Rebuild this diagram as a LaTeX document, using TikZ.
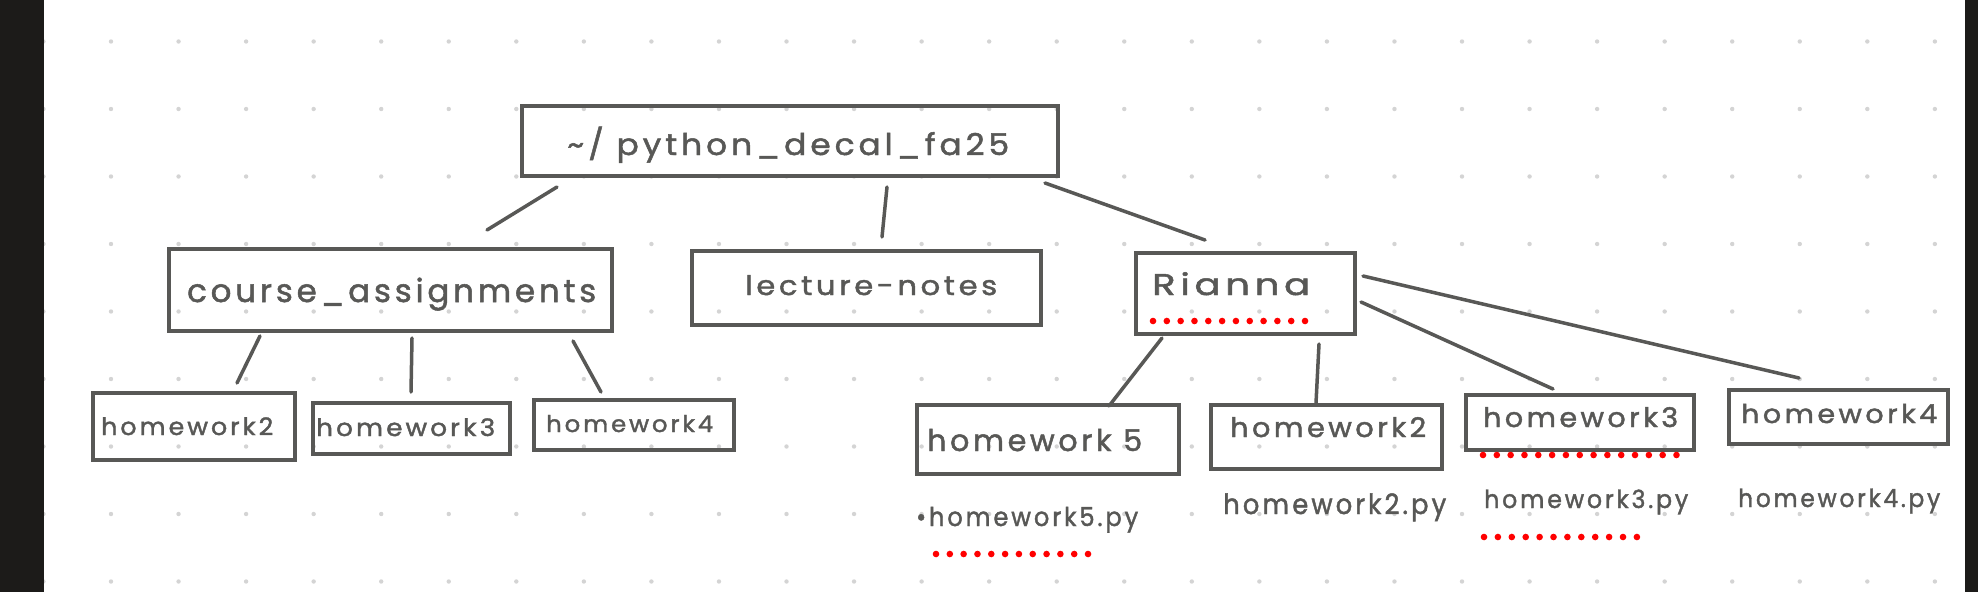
\documentclass[tikz,border=0pt]{standalone}
\usepackage{fontspec}
\setmainfont{Poppins}
\usepackage{graphicx}
\definecolor{ink}{RGB}{88,88,86}
\definecolor{gdot}{RGB}{212,212,212}
\definecolor{sidebar}{RGB}{28,27,25}
\definecolor{redmark}{RGB}{255,0,0}
\newlength\hwlen
\newcommand\hwtext[3]{%
  \settowidth\hwlen{\fontsize{#2}{#2}\selectfont\addfontfeatures{LetterSpace=12,FakeBold=1.6}#3}%
  \pgfmathsetmacro\hwsx{#1/\hwlen}%
  \scalebox{\hwsx}[1]{\fontsize{#2}{#2}\selectfont\addfontfeatures{LetterSpace=12,FakeBold=1.6}#3}}
\begin{document}
\begin{tikzpicture}[x=1pt,y=-1pt,
  box/.style={draw=ink,line width=4pt,rectangle,inner sep=0pt,anchor=north west},
  conn/.style={draw=ink,line width=3.5pt,line cap=round},
  lbl/.style={inner sep=0pt,anchor=base west,text=ink}]
\useasboundingbox (0,0) rectangle (1978,592);
\fill[white] (0,0) rectangle (1978,592);
% dot grid
\foreach \i in {-1,...,27}{\foreach \j in {0,...,8}{\fill[gdot] ({111+67.55*\i},{41.5+67.5*\j}) circle (2.2pt);}}
% side bars
\fill[sidebar] (0,0) rectangle (44,592);
\fill[sidebar] (1965,0) rectangle (1978,592);
% boxes
\node[box,minimum width=536pt,minimum height=70pt] (root) at (520,104) {};
\node[box,minimum width=443pt,minimum height=82pt] (course) at (167,247) {};
\node[box,minimum width=349pt,minimum height=74pt] (lect) at (690,249) {};
\node[box,minimum width=219pt,minimum height=81pt] (rianna) at (1134,251) {};
\node[box,minimum width=202pt,minimum height=67pt] (lhwtwo) at (91,391) {};
\node[box,minimum width=197pt,minimum height=51pt] (lhwthree) at (311,401) {};
\node[box,minimum width=200pt,minimum height=50pt] (lhwfour) at (532,398) {};
\node[box,minimum width=262pt,minimum height=69pt] (hwfive) at (915,403) {};
\node[box,minimum width=231pt,minimum height=64pt] (rhwtwo) at (1209,403) {};
\node[box,minimum width=228pt,minimum height=55pt] (rhwthree) at (1464,393) {};
\node[box,minimum width=219pt,minimum height=54pt] (rhwfour) at (1727,388) {};
% texts
\node[lbl] (roott) at (567,155) {\hwtext{442}{30}{\textasciitilde/ python\_decal\_fa25}};
\node[lbl] (courset) at (187,302) {\hwtext{409}{32}{course\_assignments}};
\node[lbl] (lectt) at (745,295) {\hwtext{252}{27}{lecture-notes}};
\node[lbl] (riannat) at (1152,295) {\hwtext{158}{30}{Rianna}};
\node[lbl] (lhwtwot) at (101,435) {\hwtext{172}{24}{homework2}};
\node[lbl] (lhwthreet) at (316,436) {\hwtext{179}{24}{homework3}};
\node[lbl] (lhwfourt) at (546,432) {\hwtext{167}{23}{homework4}};
\node[lbl] (hwfivet) at (927,451) {\hwtext{215}{30}{homework 5}};
\node[lbl] (rhwtwot) at (1230,437) {\hwtext{196}{27}{homework2}};
\node[lbl] (rhwthreet) at (1483,427) {\hwtext{195}{27}{homework3}};
\node[lbl] (rhwfourt) at (1741,423) {\hwtext{196}{26}{homework4}};
\node[lbl] (pyfive) at (916,526) {\hwtext{222}{26}{•homework5.py}};
\node[lbl] (pytwo) at (1223,514) {\hwtext{223}{28}{homework2.py}};
\node[lbl] (pythree) at (1484,508) {\hwtext{204}{25}{homework3.py}};
\node[lbl] (pyfour) at (1738,507) {\hwtext{202}{25}{homework4.py}};
% connector end points
\coordinate (c1a) at (557,187); \coordinate (c1b) at (487,230);
\coordinate (c2a) at (887,187); \coordinate (c2b) at (882,237);
\coordinate (c3a) at (1045,183); \coordinate (c3b) at (1205,240);
\coordinate (c4a) at (260,336); \coordinate (c4b) at (237,383);
\coordinate (c5a) at (412,338); \coordinate (c5b) at (411,392);
\coordinate (c6a) at (573,341); \coordinate (c6b) at (601,392);
\coordinate (c7a) at (1162,338); \coordinate (c7b) at (1109,406);
\coordinate (c8a) at (1319,344); \coordinate (c8b) at (1316,403);
\coordinate (c9a) at (1361,302); \coordinate (c9b) at (1553,389);
\coordinate (c10a) at (1363,276); \coordinate (c10b) at (1799,378);
\draw[conn] (c1a) -- (c1b);
\draw[conn] (c2a) -- (c2b);
\draw[conn] (c3a) -- (c3b);
\draw[conn] (c4a) -- (c4b);
\draw[conn] (c5a) -- (c5b);
\draw[conn] (c6a) -- (c6b);
\draw[conn] (c7a) -- (c7b);
\draw[conn] (c8a) -- (c8b);
\draw[conn] (c9a) -- (c9b);
\draw[conn] (c10a) -- (c10b);
% red dotted underlines
\foreach \k in {0,...,11}{\fill[redmark] ({1153+13.82*\k},321) circle (3.3pt);}
\foreach \k in {0,...,14}{\fill[redmark] ({1483+13.82*\k},455) circle (3.3pt);}
\foreach \k in {0,...,11}{\fill[redmark] ({936+13.82*\k},554) circle (3.3pt);}
\foreach \k in {0,...,11}{\fill[redmark] ({1484+13.9*\k},537) circle (3.3pt);}
\end{tikzpicture}
\end{document}
